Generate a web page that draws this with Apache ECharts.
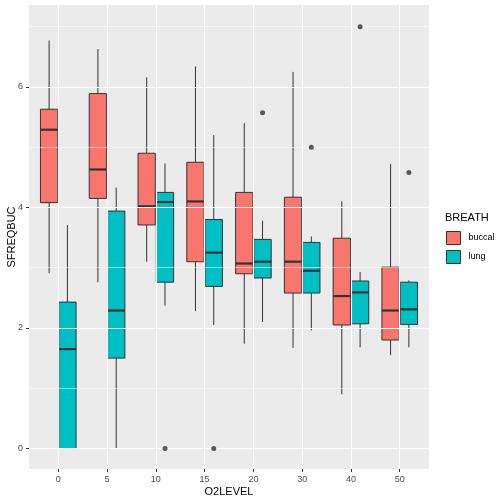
<!DOCTYPE html>
<html><head><meta charset="utf-8">
<script src="https://cdn.jsdelivr.net/npm/echarts@6/dist/echarts.min.js"></script>
<style>html,body{margin:0;padding:0;background:#fff}#c{width:504px;height:504px}</style>
</head><body><div id="c"></div>
<script>
const categories = ['0','5','10','15','20','30','40','50'];
const groups = ['buccal','lung'];
const yMajorTicks = [0, 2, 4, 6];
const yMinorTicks = [1, 3, 5, 7];

const buccalLow  = [2.91, 2.76, 3.10, 2.28, 1.74, 1.67, 0.90, 1.55];
const buccalQ1   = [4.08, 4.15, 3.71, 3.10, 2.90, 2.58, 2.05, 1.80];
const buccalMed  = [5.29, 4.63, 4.02, 4.10, 3.07, 3.10, 2.53, 2.29];
const buccalQ3   = [5.63, 5.89, 4.90, 4.75, 4.25, 4.17, 3.49, 3.01];
const buccalHigh = [6.77, 6.63, 6.16, 6.34, 5.40, 6.25, 4.10, 4.72];

const lungLow  = [0.00, 0.00, 2.37, 2.05, 2.10, 1.96, 1.68, 1.68];
const lungQ1   = [0.00, 1.50, 2.76, 2.69, 2.83, 2.58, 2.07, 2.06];
const lungMed  = [1.65, 2.29, 4.09, 3.25, 3.10, 2.95, 2.59, 2.31];
const lungQ3   = [2.43, 3.94, 4.25, 3.80, 3.47, 3.42, 2.78, 2.76];
const lungHigh = [3.71, 4.33, 4.73, 5.20, 3.78, 3.52, 2.93, 2.79];

// outliers: [category label, value]
const buccalOutliers = [];
const lungOutliers = [['10', 0.00], ['15', 0.00], ['20', 5.57], ['30', 5.00], ['40', 7.00], ['50', 4.58]];

const colors = {buccal: '#F8766D', lung: '#00BFC4'};
const DODGE = 0.1875, BOXW = 0.355;
const catIdx = categories.map((c, i) => i);

function boxData(lo, q1, md, q3, hi) {
  return categories.map((c, i) => [i, lo[i], q1[i], md[i], q3[i], hi[i]]);
}
function makeRender(off) {
  return function (params, api) {
    const x = api.value(0) + off;
    const pLo = api.coord([x, api.value(1)]);
    const pQ1 = api.coord([x, api.value(2)]);
    const pMd = api.coord([x, api.value(3)]);
    const pQ3 = api.coord([x, api.value(4)]);
    const pHi = api.coord([x, api.value(5)]);
    const l = api.coord([x - BOXW / 2, 0])[0];
    const r = api.coord([x + BOXW / 2, 0])[0];
    const cx = pMd[0];
    const fill = api.visual('color');
    return {
      type: 'group', children: [
        {type: 'line', shape: {x1: cx, y1: pHi[1], x2: cx, y2: pQ3[1]}, style: {stroke: '#333', lineWidth: 1}},
        {type: 'line', shape: {x1: cx, y1: pQ1[1], x2: cx, y2: pLo[1]}, style: {stroke: '#333', lineWidth: 1}},
        {type: 'rect', shape: {x: l, y: pQ3[1], width: r - l, height: pQ1[1] - pQ3[1]}, style: {fill: fill, stroke: '#333', lineWidth: 1}},
        {type: 'line', shape: {x1: l, y1: pMd[1], x2: r, y2: pMd[1]}, style: {stroke: '#333', lineWidth: 2.2}}
      ]
    };
  };
}
function outlierData(list, off) {
  return list.map(o => [categories.indexOf(o[0]) + off, o[1]]);
}

const gridMarks = [].concat(
  catIdx.map(v => ({xAxis: v, lineStyle: {width: 1.1}})),
  yMajorTicks.map(v => ({yAxis: v, lineStyle: {width: 1.1}})),
  yMinorTicks.map(v => ({yAxis: v, lineStyle: {width: 0.55}}))
);

const chart = echarts.init(document.getElementById('c'), null, {renderer: 'canvas'});
const yMin = -0.34, yMax = 7.36;
chart.setOption({
  animation: false,
  textStyle: {fontFamily: 'Liberation Sans'},
  title: {text: 'BREATH', left: 445, top: 212, textStyle: {fontSize: 11, fontWeight: 'normal', color: '#000', fontFamily: 'Liberation Sans'}, padding: 0},
  legend: {
    data: groups, orient: 'vertical', left: 446, top: 231, itemWidth: 14, itemHeight: 13, itemGap: 5,
    icon: 'rect', padding: 0,
    itemStyle: {borderColor: '#333', borderWidth: 1},
    textStyle: {fontSize: 9, color: '#000', padding: [0, 0, 0, 3]}
  },
  grid: {left: 29, right: 75, top: 5, bottom: 35, show: true, backgroundColor: '#EBEBEB', borderWidth: 0,
         containLabel: false, outerBoundsMode: 'none'},
  xAxis: {
    type: 'value', min: -0.6, max: 7.6,
    name: 'O2LEVEL', nameLocation: 'middle', nameGap: 17, nameMoveOverlap: false,
    nameTextStyle: {color: '#000', fontSize: 11},
    axisLine: {show: false, onZero: false},
    axisTick: {show: true, length: 3, lineStyle: {color: '#333'}, customValues: catIdx},
    axisLabel: {customValues: catIdx, formatter: v => categories[Math.round(v)], color: '#4D4D4D', fontSize: 9, margin: 6},
    splitLine: {show: false}
  },
  yAxis: {
    type: 'value', min: yMin, max: yMax,
    name: 'SFREQBUC', nameLocation: 'middle', nameGap: 11.5, nameMoveOverlap: false,
    nameTextStyle: {color: '#000', fontSize: 11},
    axisLine: {show: false, onZero: false},
    axisTick: {show: true, length: 3, lineStyle: {color: '#333'}, customValues: yMajorTicks},
    axisLabel: {customValues: yMajorTicks, color: '#4D4D4D', fontSize: 9, margin: 6},
    splitLine: {show: false}
  },
  series: [
    {name: 'grid', type: 'scatter', data: [], z: 1, silent: true,
     markLine: {silent: true, symbol: 'none', label: {show: false}, animation: false,
                lineStyle: {color: '#fff', type: 'solid'}, data: gridMarks}},
    {name: 'buccal', type: 'custom', renderItem: makeRender(-DODGE), data: boxData(buccalLow, buccalQ1, buccalMed, buccalQ3, buccalHigh),
     encode: {x: 0, y: [1, 2, 3, 4, 5]}, itemStyle: {color: colors.buccal, borderColor: '#333'}, z: 3},
    {name: 'lung', type: 'custom', renderItem: makeRender(DODGE), data: boxData(lungLow, lungQ1, lungMed, lungQ3, lungHigh),
     encode: {x: 0, y: [1, 2, 3, 4, 5]}, itemStyle: {color: colors.lung, borderColor: '#333'}, z: 3},
    {name: 'buccal outliers', type: 'scatter', data: outlierData(buccalOutliers, -DODGE), symbolSize: 5, itemStyle: {color: '#333'}, z: 5},
    {name: 'lung outliers', type: 'scatter', data: outlierData(lungOutliers, DODGE), symbolSize: 5, itemStyle: {color: '#333'}, z: 5}
  ]
});
</script>
</body></html>
